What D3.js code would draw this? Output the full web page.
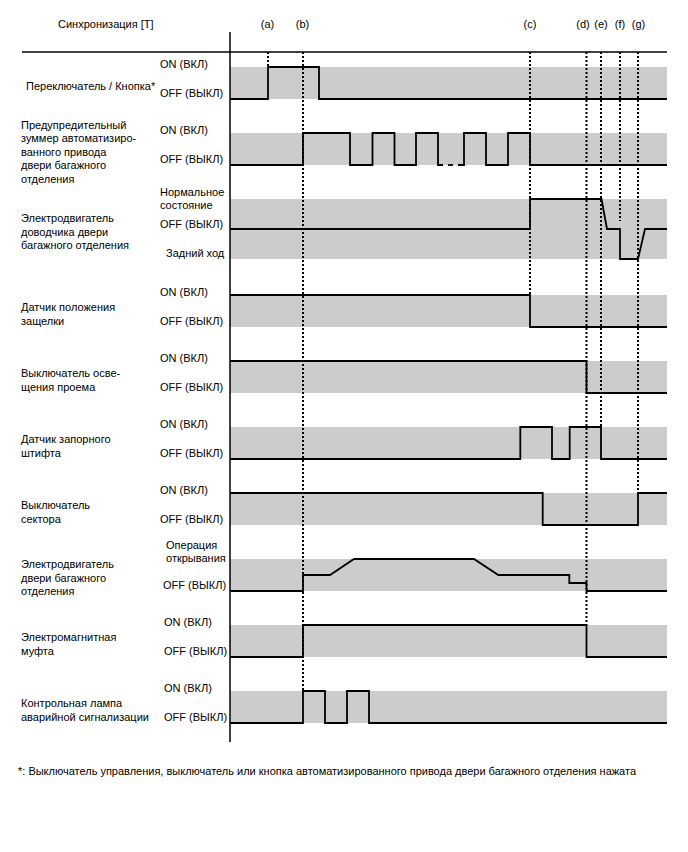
<!DOCTYPE html>
<html>
<head>
<meta charset="utf-8">
<script src="https://cdn.jsdelivr.net/npm/d3@7"></script>
<style>
html,body{margin:0;padding:0;background:#fff;}
svg text{font-family:"Liberation Sans",Arial,sans-serif;fill:#000;}
</style>
</head>
<body>
<script>
// ---------- DATA ----------
const headerLabel = "Синхронизация [T]";
const markerNames = ["(a)","(b)","(c)","(d)","(e)","(f)","(g)"];
const markerTimes = [38, 73, 300, 356.5, 371, 390, 408];
const markerLabelTimes = [37.5, 72.5, 300, 353, 371, 390, 408.5];
// where each dotted marker ends: [row index, level]
const markerEnds = [[0,1],[9,1],[3,1],[8,1],[5,1],[2,0.27],[6,1]];
const timeEnd = 437;

const rowNames = [
  ["Переключатель / Кнопка*"],
  ["Предупредительный","зуммер автоматизиро-","ванного привода","двери багажного","отделения"],
  ["Электродвигатель","доводчика двери","багажного отделения"],
  ["Датчик положения","защелки"],
  ["Выключатель осве-","щения проема"],
  ["Датчик запорного","штифта"],
  ["Выключатель","сектора"],
  ["Электродвигатель","двери багажного","отделения"],
  ["Электромагнитная","муфта"],
  ["Контрольная лампа","аварийной сигнализации"]
];
const onLabel = "ON (ВКЛ)";
const offLabel = "OFF (ВЫКЛ)";
const closerLabels = [["Нормальное","состояние"], ["OFF (ВЫКЛ)"], ["Задний ход"]];
const doorMotorLabels = [["Операция","открывания"], ["OFF (ВЫКЛ)"]];
const rowLevels = [[0,1],[0,1],[-1,1],[0,1],[0,1],[0,1],[0,1],[0,1],[0,1],[0,1]];

// waveforms: [time, level]
const wSwitch = [[0,0],[38,0],[38,1],[89,1],[89,0],[437,0]];
const wBuzzerA = [[0,0],[73,0],[73,1],[120,1],[120,0],[142.5,0],[142.5,1],[164.5,1],[164.5,0],[186,0],[186,1],[208,1],[208,0],[213,0]];
const wBuzzerDash = [[218,0],[223,0]];
const wBuzzerB = [[228,0],[234,0],[234,1],[256,1],[256,0],[278,0],[278,1],[300,1],[300,0],[437,0]];
const wCloser = [[0,0],[300,0],[300,1],[371.5,1],[377,0],[390,0],[390,-1],[408,-1],[415,0],[437,0]];
const wLatch = [[0,1],[300,1],[300,0],[437,0]];
const wCourtesy = [[0,1],[356.5,1],[356.5,0],[437,0]];
const wLockPin = [[0,0],[290.3,0],[290.3,1],[322,1],[322,0],[339.7,0],[339.7,1],[371,1],[371,0],[437,0]];
const wSector = [[0,1],[312.7,1],[312.7,0],[408,0],[408,1],[437,1]];
const wDoorMotor = [[0,0],[73,0],[73,0.5],[100,0.5],[124,1],[244,1],[268.3,0.5],[339.3,0.5],[339.3,0.25],[356.5,0.25],[356.5,0],[437,0]];
const wClutch = [[0,0],[73,0],[73,1],[356.5,1],[356.5,0],[437,0]];
const wLamp = [[0,0],[73,0],[73,1],[95,1],[95,0],[117,0],[117,1],[139,1],[139,0],[437,0]];

const footnote = "*: Выключатель управления, выключатель или кнопка автоматизированного привода двери багажного отделения нажата";

// ---------- LAYOUT ----------
const W = 688, H = 852;
const svg = d3.select("body").append("svg").attr("width", W).attr("height", H);
const x = d3.scaleLinear().domain([0, timeEnd]).range([230, 667]);

function rowTop(i){ return 67 + 66*i + (i >= 3 ? 30 : 0); }
function rowHeight(i){ return i === 2 ? 60 : 32; }
const yScales = rowNames.map((_, i) =>
  d3.scaleLinear().domain(rowLevels[i]).range([rowTop(i) + rowHeight(i), rowTop(i)]));

// bands
rowNames.forEach((_, i) => {
  svg.append("rect")
    .attr("x", x(0)).attr("y", rowTop(i))
    .attr("width", x(timeEnd) - x(0)).attr("height", rowHeight(i))
    .attr("fill", "#cccccc");
});

// header line & axis
svg.append("line").attr("x1", 22).attr("x2", x(timeEnd)).attr("y1", 52).attr("y2", 52)
  .attr("stroke", "#000").attr("stroke-width", 1.5);
svg.append("line").attr("x1", x(0)).attr("x2", x(0)).attr("y1", 32).attr("y2", 742)
  .attr("stroke", "#000").attr("stroke-width", 1.5);

// header text
svg.append("text").attr("x", 58).attr("y", 25).attr("dominant-baseline", "middle")
  .attr("font-size", 11).text(headerLabel);
markerNames.forEach((m, k) => {
  svg.append("text").attr("x", x(markerLabelTimes[k])).attr("y", 25)
    .attr("text-anchor", "middle").attr("dominant-baseline", "middle")
    .attr("font-size", 11).text(m);
});

// waveforms
const line = d3.line();
function wave(rowIdx, pts){
  const ys = yScales[rowIdx];
  svg.append("path")
    .attr("d", line(pts.map(p => [x(p[0]), ys(p[1])])))
    .attr("fill", "none").attr("stroke", "#000").attr("stroke-width", 1.8)
    .attr("stroke-linejoin", "miter");
}
wave(0, wSwitch);
wave(1, wBuzzerA);
wave(1, wBuzzerDash);
wave(1, wBuzzerB);
wave(2, wCloser);
wave(3, wLatch);
wave(4, wCourtesy);
wave(5, wLockPin);
wave(6, wSector);
wave(7, wDoorMotor);
wave(8, wClutch);
wave(9, wLamp);

// dotted markers
markerTimes.forEach((t, k) => {
  const [ri, lv] = markerEnds[k];
  svg.append("line")
    .attr("x1", x(t)).attr("x2", x(t))
    .attr("y1", 52).attr("y2", yScales[ri](lv))
    .attr("stroke", "#000").attr("stroke-width", 2)
    .attr("stroke-dasharray", "2,2");
});

// row names
const lh = 13.5;
rowNames.forEach((lines, i) => {
  const cy = rowTop(i) + rowHeight(i)/2 + 4;
  const x0 = i === 0 ? 26 : 21;
  lines.forEach((s, j) => {
    svg.append("text").attr("x", x0)
      .attr("y", cy + (j - (lines.length-1)/2) * lh)
      .attr("dominant-baseline", "middle").attr("font-size", 11).text(s);
  });
});

// level labels
function lvlText(xx, yy, s){
  svg.append("text").attr("x", xx).attr("y", yy)
    .attr("dominant-baseline", "middle").attr("font-size", 11).text(s);
}
rowNames.forEach((_, i) => {
  const top = rowTop(i), bot = top + rowHeight(i);
  const lx = i >= 7 ? 164 : 160;
  if (i === 2) {
    lvlText(160, top - 6, closerLabels[0][0]);
    lvlText(160, top + 7, closerLabels[0][1]);
    lvlText(160, yScales[i](0) - 4, closerLabels[1][0]);
    lvlText(166, bot - 5, closerLabels[2][0]);
  } else if (i === 7) {
    lvlText(166, top - 13, doorMotorLabels[0][0]);
    lvlText(166, top, doorMotorLabels[0][1]);
    lvlText(163, bot - 5, doorMotorLabels[1][0]);
  } else {
    lvlText(lx, top - 2, onLabel);
    lvlText(lx, bot - 5, offLabel);
  }
});

// footnote
svg.append("text").attr("x", 18).attr("y", 772).attr("dominant-baseline", "middle")
  .attr("font-size", 10.5).attr("textLength", 618).attr("lengthAdjust", "spacingAndGlyphs")
  .text(footnote);
</script>
</body>
</html>
